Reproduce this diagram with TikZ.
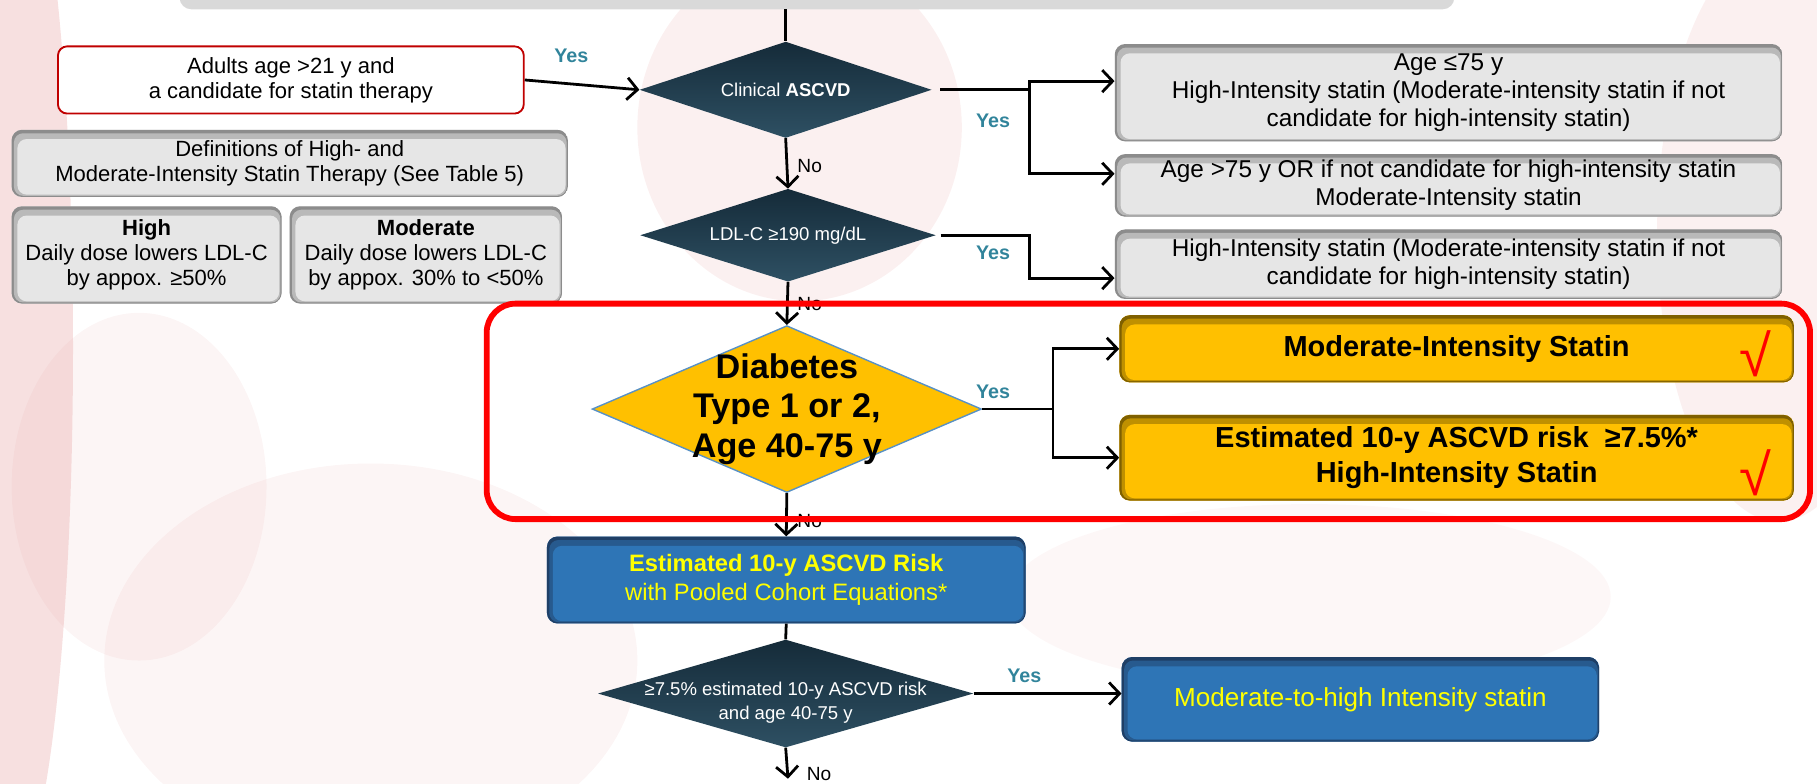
\documentclass[tikz,border=0pt]{standalone}
\usepackage{fontspec}
\setmainfont{Liberation Sans}
\usetikzlibrary{arrows.meta,positioning,shapes.geometric}
\definecolor{boxgrey}{HTML}{E6E6E6}
\definecolor{greyshade}{HTML}{8C8C8C}
\definecolor{gold}{HTML}{FFC000}
\definecolor{goldshade}{HTML}{7F6000}
\definecolor{steel}{HTML}{2E75B6}
\definecolor{steelshade}{HTML}{1F3F66}
\definecolor{sunny}{HTML}{FFFF00}
\definecolor{slatetop}{HTML}{152B39}
\definecolor{slatebot}{HTML}{2E5063}
\definecolor{teal}{HTML}{31849B}
\definecolor{frame}{HTML}{FF0000}
\definecolor{darkred}{HTML}{C00000}
\definecolor{blush}{HTML}{E39A9A}
\tikzset{>={Straight Barb[length=9pt,width=19pt]},
  flow/.style={line width=2.4pt},
  softbox/.style 2 args={rounded corners=9pt,align=center,inner sep=0pt,fill=#2,
    path picture={
      \fill[#1] (path picture bounding box.south west) rectangle (path picture bounding box.north east);
      \fill[#1!50!#2,rounded corners=8pt] ([shift={(2pt,-3pt)}]path picture bounding box.north west)
        rectangle ([shift={(-1pt,1pt)}]path picture bounding box.south east);
      \fill[#2,rounded corners=8pt] ([shift={(5pt,-8pt)}]path picture bounding box.north west)
        rectangle ([shift={(-2pt,2pt)}]path picture bounding box.south east);}},
  greybox/.style={softbox={greyshade}{boxgrey},font=\fontsize{21}{24}\selectfont},
  sidebox/.style={softbox={greyshade}{boxgrey},font=\fontsize{19}{21.5}\selectfont},
  goldbox/.style={softbox={goldshade}{gold},font=\bfseries\fontsize{25}{30}\selectfont},
  bluebox/.style={softbox={steelshade}{steel},text=sunny},
  query/.style={diamond,inner sep=0pt,top color=slatetop,bottom color=slatebot,
    text=white,align=center,font=\fontsize{16}{20}\selectfont},
  yes/.style={text=teal,font=\bfseries\fontsize{17}{20}\selectfont},
  no/.style={anchor=west,inner sep=0pt,font=\fontsize{16.5}{20}\selectfont},
  tick/.style={text=frame,font=\fontsize{50}{50}\selectfont}}
\begin{document}
\begin{tikzpicture}[x=1pt,y=-1pt]
\useasboundingbox (0,0) rectangle (1568,676);
% background cells
\fill[blush,opacity=.3] (8,300) ellipse (55 and 460);
\fill[blush,opacity=.15] (690,110) ellipse (140 and 150);
\fill[blush,opacity=.15] (1535,200) ellipse (105 and 250);
\fill[blush,opacity=.1] (320,570) ellipse (230 and 170);
\fill[blush,opacity=.08] (1130,515) ellipse (260 and 80);
\fill[blush,opacity=.1] (120,420) ellipse (110 and 150);

\node[fill=black!15,rounded corners=10pt,minimum width=1100pt,minimum height=40pt] (topbar) at (705,-12) {};

\node[draw=darkred,line width=1.6pt,fill=white,rounded corners=8pt,align=center,
  minimum width=402pt,minimum height=58pt,font=\fontsize{19}{21.5}\selectfont] (adults) at (251,69)
  {Adults age >21 y and\\a candidate for statin therapy};
\node[sidebox,minimum width=480pt,minimum height=58pt] (defs) at (250,141)
  {Definitions of High- and\\Moderate-Intensity Statin Therapy (See Table 5)};
\node[sidebox,minimum width=233pt,minimum height=84pt] (high) at (126.5,220)
  {\textbf{High}\\Daily dose lowers LDL-C\\by appox. ≥50\%};
\node[sidebox,minimum width=235pt,minimum height=84pt] (moder) at (367.5,220)
  {\textbf{Moderate}\\Daily dose lowers LDL-C\\by appox. 30\% to <50\%};

\node[query,aspect=3.1,minimum width=252pt,minimum height=83pt] (clin) at (678,77.5) {Clinical \textbf{ASCVD}};
\node[query,aspect=3.19,minimum width=255pt,minimum height=80pt] (ldl) at (680,203) {LDL-C ≥190 mg/dL};
\node[diamond,aspect=2.33,inner xsep=0pt,inner ysep=-25pt,fill=gold,draw=steel!80,line width=1.2pt,align=center,
  minimum width=336pt,minimum height=144pt,font=\bfseries\fontsize{29.5}{34}\selectfont] (diab) at (679,353)
  {Diabetes\\Type 1 or 2,\\Age 40-75 y};
\node[bluebox,minimum width=413pt,minimum height=75pt,font=\fontsize{20.5}{25}\selectfont] (pce) at (678.5,500.5)
  {\textbf{Estimated 10-y ASCVD Risk}\\with Pooled Cohort Equations*};
\node[query,aspect=3.48,inner ysep=-22pt,minimum width=324pt,minimum height=93pt] (risk) at (678,598.5)
  {\begin{tabular}{@{}c@{}}\rule{0pt}{30pt}≥7.5\% estimated 10-y ASCVD risk\\and age 40-75 y\end{tabular}};

\node[greybox,minimum width=576pt,minimum height=84pt] (ageyoung) at (1250,80)
  {Age ≤75 y\\High-Intensity statin (Moderate-intensity statin if not\\candidate for high-intensity statin)};
\node[greybox,minimum width=576pt,minimum height=54pt] (ageold) at (1250,160)
  {Age >75 y OR if not candidate for high-intensity statin\\Moderate-Intensity statin};
\node[greybox,minimum width=576pt,minimum height=60pt] (ldlbox) at (1250,228)
  {High-Intensity statin (Moderate-intensity statin if not\\candidate for high-intensity statin)};
\node[goldbox,minimum width=582pt,minimum height=58pt] (modst) at (1257,301) {Moderate-Intensity Statin};
\node[goldbox,minimum width=582pt,minimum height=74pt] (highst) at (1257,395)
  {Estimated 10-y ASCVD risk \ ≥7.5\%*\\High-Intensity Statin};
\node[tick] (tick1) at (1515,305) {√};
\node[tick] (tick2) at (1515,408) {√};
\node[bluebox,minimum width=412pt,minimum height=73pt,font=\fontsize{22.5}{26}\selectfont] (mthi) at (1174,603.5)
  {Moderate-to-high Intensity statin};
\coordinate (exit) at (680,672);

\node[yes] (yes1) at (493,48) {Yes};
\node[yes] (yes2) at (857,104) {Yes};
\node[yes] (yes3) at (857,218) {Yes};
\node[yes] (yes4) at (857,338) {Yes};
\node[yes] (yes5) at (884,583) {Yes};
\node[no] (no1) at (688,143) {No};
\node[no] (no2) at (688,262) {No};
\node[no] (no3) at (688,450) {No};
\node[no] (no4) at (696,668) {No};

\draw[flow] (topbar.south -| clin.north) -- (clin.north);
\draw[flow,->] (adults.east) -- (clin.west);
\draw[flow,->] ([xshift=7pt]clin.east) -- ++(77,0) coordinate (fork1) |- ([yshift=10pt]ageyoung.west);
\draw[flow,->] (fork1) |- ([yshift=10pt]ageold.west);
\draw[flow,->] ([xshift=4pt]ldl.east) -- ++(77,0) |- ([yshift=-12pt]ldlbox.west);
\draw[flow,->] (diab.east) -- ++(61,0) coordinate (fork2) |- (modst.west);
\draw[flow,->] (fork2) |- (highst.west);
\draw[flow,->] (clin.south) -- (ldl.north);
\draw[flow,->] (ldl.south) -- (diab.north);
\draw[flow,->] (diab.south) -- (pce.north);
\draw[flow] (pce.south) -- (risk.north);
\draw[flow,->] (risk.east) -- (risk.east -| mthi.west);
\draw[flow,->] (risk.south) -- (exit);

\draw[frame,line width=5pt,rounded corners=25pt] (420,262) rectangle (1562,448);
\end{tikzpicture}
\end{document}
